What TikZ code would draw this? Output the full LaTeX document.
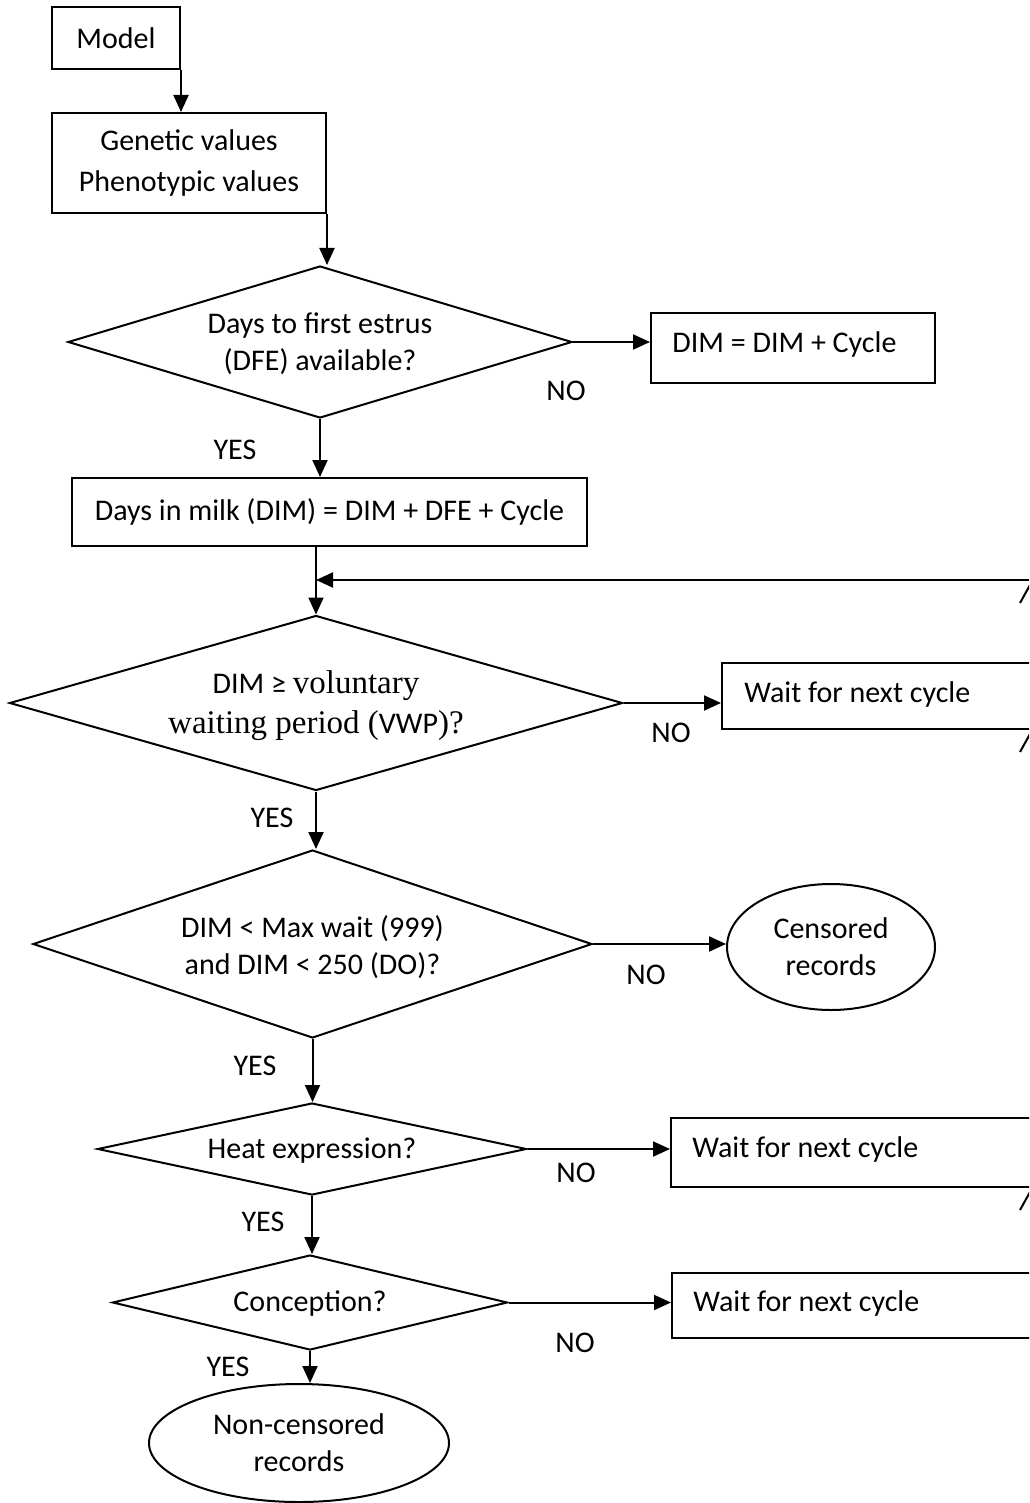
\documentclass[tikz,border=0pt]{standalone}
\usepackage{fontspec}
\setmainfont{Carlito}
\newfontfamily\tms{Liberation Serif}
\usetikzlibrary{shapes.geometric,arrows.meta}
\begin{document}
\begin{tikzpicture}[x=0.5pt,y=-0.5pt,
  every node/.style={font=\fontsize{15}{18.5}\selectfont, inner sep=0pt},
  box/.style={draw, rectangle, line width=1pt, align=center},
  dia/.style={draw, diamond, line width=1pt},
  ell/.style={draw, ellipse, line width=1pt, align=center},
  arr/.style={line width=1pt, -{Triangle[length=8.5pt,width=7.5pt]}},
  lbl/.style={},
  plain/.style={line width=1pt}]
\useasboundingbox (0,0) rectangle (1029,1503);
\clip (0,0) rectangle (1029,1503);

% nodes
\node[box, minimum width=64pt, minimum height=31pt] (model) at (116,38) {Model};
\node[box, minimum width=137pt, minimum height=50pt, font=\fontsize{15}{20.5}\selectfont] (gen) at (189,163) {Genetic values\\Phenotypic values};

\node[dia, minimum width=252pt, minimum height=76pt] (d1) at (320,342) {};
\node[align=center] (d1t) at (320,344) {Days to first estrus\\(DFE) available?};

\node[box, minimum width=142pt, minimum height=35pt] (dimc) at (793,348) {};
\node[anchor=west] (dimct) at (672,344) {DIM = DIM + Cycle};

\node[box, minimum width=257.5pt, minimum height=34pt] (box3) at (329.5,512) {Days in milk (DIM) = DIM + DFE + Cycle};

\node[dia, minimum width=306.5pt, minimum height=87.5pt] (d2) at (316,703) {};
\node[align=center] (d2t) at (316,706) {DIM ≥ {\tms\fontsize{16.5}{18.5}\selectfont voluntary}\\[1.5pt]{\tms\fontsize{16.5}{18.5}\selectfont waiting period (}VWP{\tms\fontsize{16.5}{18.5}\selectfont )?}};

\node[box, minimum width=159pt, minimum height=33pt] (w1) at (881,696) {};
\node[anchor=west] (w1t) at (744,694) {Wait for next cycle};

\node[dia, minimum width=279.5pt, minimum height=94pt] (d3) at (312.5,944) {};
\node[align=center] (d3t) at (312.5,947) {DIM < Max wait (999)\\and DIM < 250 (DO)?};

\node[ell, minimum width=104pt, minimum height=63pt] (cens) at (831,947) {Censored\\records};

\node[dia, minimum width=214.5pt, minimum height=46pt] (d4) at (312,1149) {};
\node (d4t) at (312,1151) {Heat expression?};

\node[box, minimum width=184.5pt, minimum height=34.5pt] (w2) at (855.5,1152.5) {};
\node[anchor=west] (w2t) at (692,1149) {Wait for next cycle};

\node[dia, minimum width=197.5pt, minimum height=47.5pt] (d5) at (310,1302.5) {};
\node (d5t) at (310,1304) {Conception?};

\node[box, minimum width=184pt, minimum height=32.5pt] (w3) at (856,1305.5) {};
\node[anchor=west] (w3t) at (693,1303) {Wait for next cycle};

\node[ell, minimum width=150pt, minimum height=59pt] (ncens) at (299,1443) {Non-censored\\records};

% labels
\node[lbl] (no1) at (566,391) {NO};
\node[lbl] (no2) at (671,733) {NO};
\node[lbl] (no3) at (646,975) {NO};
\node[lbl] (no4) at (576,1173) {NO};
\node[lbl] (no5) at (575,1343) {NO};
\node[lbl] (yes1) at (235,450) {YES};
\node[lbl] (yes2) at (272,818) {YES};
\node[lbl] (yes3) at (255,1066) {YES};
\node[lbl] (yes4) at (263,1222) {YES};
\node[lbl] (yes5) at (228,1367) {YES};

% connectors
\draw[arr] (model.south east) -- (model.south east |- gen.north);
\draw[arr] (gen.south east) -- (gen.south east |- d1.north);
\draw[arr] (d1.east) -- (dimc.west |- d1.east);
\draw[arr] (d1.south) -- (d1.south |- box3.north);
\draw[arr] (d2.north |- box3.south) -- (d2.north);
\coordinate (fb) at (1029,580);
\draw[arr] (fb) -- (fb -| d2.north);
\draw[arr] (d2.east) -- (w1.west |- d2.east);
\draw[arr] (d2.south) -- (d2.south |- d3.north);
\draw[arr] (d3.east) -- (cens.west |- d3.east);
\draw[arr] (d3.south) -- (d3.south |- d4.north);
\draw[arr] (d4.east) -- (w2.west |- d4.east);
\draw[arr] (d4.south) -- (d4.south |- d5.north);
\draw[arr] (d5.east) -- (w3.west |- d5.east);
\draw[arr] (d5.south) -- (d5.south |- ncens.north);

% cut-off return lines at the right edge
\coordinate (s1a) at (1020,603); \coordinate (s1b) at (1030,585);
\coordinate (s2a) at (1020,752); \coordinate (s2b) at (1030,734);
\coordinate (s3a) at (1020,1210); \coordinate (s3b) at (1030,1192);
\draw[plain] (s1a) -- (s1b);
\draw[plain] (s2a) -- (s2b);
\draw[plain] (s3a) -- (s3b);
\end{tikzpicture}
\end{document}
